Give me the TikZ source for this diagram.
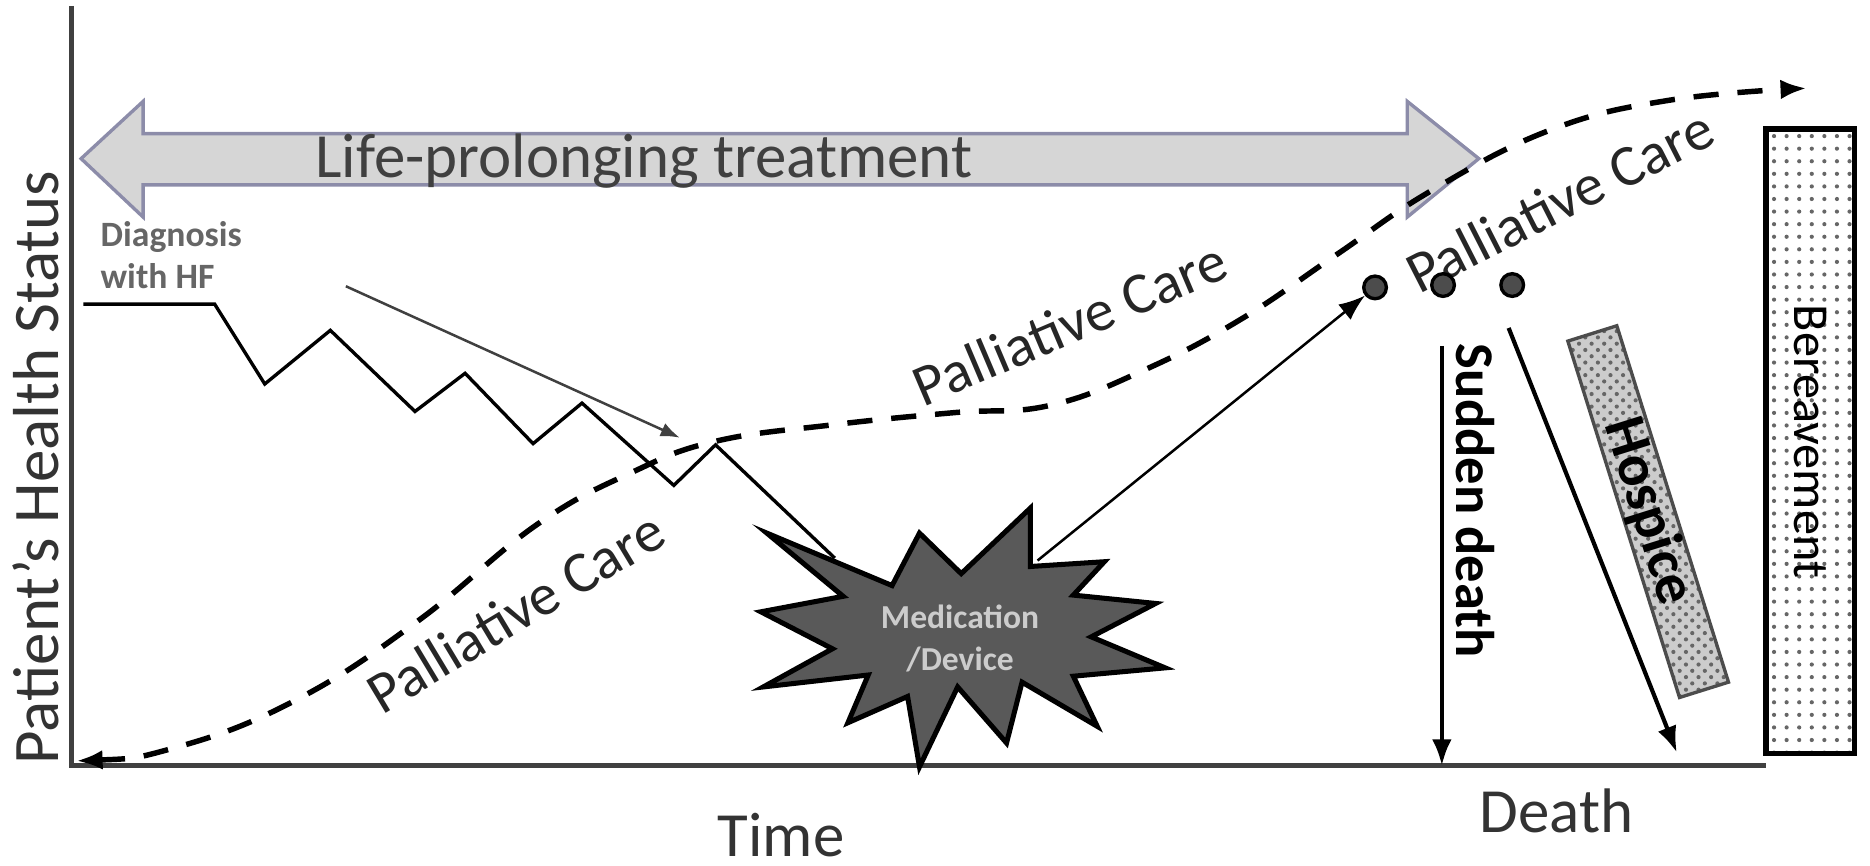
\documentclass[tikz,border=0pt]{standalone}
\usepackage{fontspec}
\setmainfont{Carlito}
\usepackage{tikz}
\usetikzlibrary{patterns}
\usetikzlibrary{arrows.meta}
\colorlet{Axis}{black!75}
\colorlet{Burst}{black!65}
\colorlet{Band}{black!16}
\colorlet{BandEdge}{blue!25!black!45}

\tikzset{
  care/.style={line width=1.3pt, dash pattern=on 6pt off 4.5pt},
  caretext/.style={font=\fontsize{14}{17}\selectfont, text=black!85},
  bigtext/.style={font=\fontsize{15}{18}\selectfont, text=black!80},
  dot/.style={circle, fill=black!70, draw=black, thick, minimum size=0.19cm, inner sep=0pt},
}

\begin{document}
\begin{tikzpicture}[x=0.01cm, y=0.01cm, >={Latex[length=2.2mm]}]
        \useasboundingbox (0,0) rectangle (1568,726);

        % axes and their labels
        \coordinate (O) at (60,84);
        \coordinate (Ytop) at (60,721);
        \coordinate (Xend) at (1481,84);
        \draw[Axis, line width=1.3pt] (Ytop) -- (O) -- (Xend);
        \node[bigtext, rotate=90] (ylab) at (30,334) {\fontsize{15.5}{18}\selectfont Patient’s Health Status};
        \node[bigtext] (time) at (655,26) {Time};
        \node[bigtext] (death) at (1305,46) {Death};

        % life-prolonging band
        \draw[BandEdge, fill=Band, thick] (68,593) -- (120,641) -- (120,614) -- (1180,614) -- (1180,641)
          -- (1240,593) -- (1180,544) -- (1180,571) -- (120,571) -- (120,544) -- cycle;
        \node[bigtext, text=black!75] (lpt) at (540,591) {Life-prolonging treatment};

        % diagnosis
        \node[anchor=west, align=left, font=\bfseries\fontsize{8.5}{10}\selectfont, text=black!60] (diag) at (72,512) {Diagnosis\\with HF};
        \coordinate (dStart) at (290,486);
        \coordinate (dEnd) at (570,359);
        \draw[->, black!75, semithick, >={Latex[length=1.6mm]}] (dStart) -- (dEnd);

        % medication burst
        \draw[fill=Burst, line width=1.2pt, line join=miter] (643,279) -- (748,235) -- (771,279) -- (806,245)
          -- (864,300) -- (864,251) -- (926,255) -- (900,227) -- (969,220) -- (915,192)
          -- (977,166) -- (900,159) -- (920,117) -- (857,154) -- (844,103) -- (803,150)
          -- (771,83) -- (761,142) -- (711,120) -- (728,160) -- (640,150) -- (698,182)
          -- (638,213) -- (707,226) -- cycle;
        \node[align=center, text=black!20, font=\bfseries\fontsize{8}{10}\selectfont] (med) at (805,191) {Medication\\/Device};

        % health course
        \draw[thick] (70,471) -- (180,471) -- (222,404) -- (277,449) -- (348,381) -- (390,413)
          -- (447,354) -- (488,388) -- (565,319) -- (600,353) -- (700,258);

        % palliative care
        \draw[care, <->] plot[smooth, tension=0.7] coordinates {(64,88) (150,100) (250,140) (350,205)
          (450,286) (530,330) (600,356) (700,370) (800,380) (880,386) (960,416) (1040,458)
          (1120,512) (1200,566) (1300,617) (1400,642) (1515,652)};
        \node[caretext, rotate=31] (pc1) at (432,213) {Palliative Care};
        \node[caretext, rotate=23] (pc2) at (897,455) {Palliative Care};
        \node[caretext, rotate=27] (pc3) at (1308,558) {Palliative Care};

        % end of life
        \node[dot] (d1) at (1153,485) {};
        \node[dot] (d2) at (1210,487) {};
        \node[dot] (d3) at (1268,487) {};
        \coordinate (bHit) at (870,256);
        \draw[->, semithick] (bHit) -- (d1);
        \coordinate (sdTop) at (1209,436);
        \coordinate (sdEnd) at (1209,84);
        \draw[->, line width=1pt] (sdTop) -- (sdEnd);
        \node[rotate=-90, font=\bfseries\fontsize{13}{15}\selectfont] (sudden) at (1237,306) {Sudden death};
        \node[rotate=-72.6, draw=black!70, thick, preaction={fill=black!20}, pattern=crosshatch dots, pattern color=black!60,
              minimum width=3.13cm, minimum height=0.43cm, inner sep=0pt,
              font=\bfseries\fontsize{14}{16}\selectfont] (hospice) at (1382,297) {Hospice};
        \coordinate (hTop) at (1265,451);
        \coordinate (hEnd) at (1406,95);
        \draw[->, line width=1pt] (hTop) -- (hEnd);

        % bereavement
        \node[rotate=-90, draw, line width=1.3pt, pattern=dots, pattern color=black!60,
              minimum width=5.23cm, minimum height=0.74cm, font=\fontsize{12}{14}\selectfont] (bereave) at (1518,356) {Bereavement};
\end{tikzpicture}
\end{document}
